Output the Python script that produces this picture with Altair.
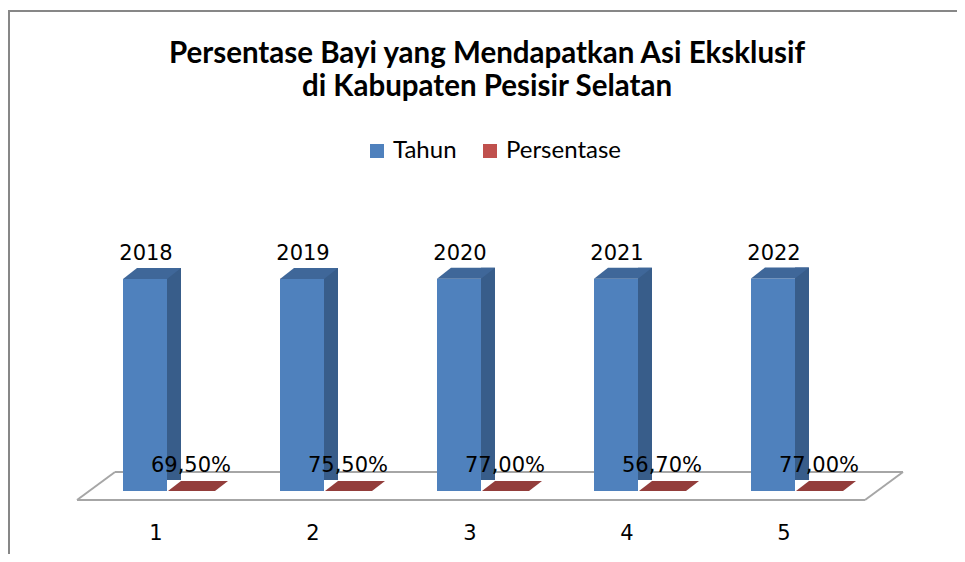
import altair as alt
import pandas as pd

categories = [1, 2, 3, 4, 5]
tahun = [2018, 2019, 2020, 2021, 2022]
persentase = [0.695, 0.755, 0.770, 0.567, 0.770]
series_names = ["Tahun", "Persentase"]
series_colors = ["#4F81BD", "#C0504D"]

rows = []
for c, t, p in zip(categories, tahun, persentase):
    rows.append({"kategori": c, "seri": "Tahun", "nilai": t, "label": str(t)})
    rows.append({"kategori": c, "seri": "Persentase", "nilai": p,
                 "label": f"{p*100:.2f}".replace(".", ",") + "%"})
df = pd.DataFrame(rows)
one = pd.DataFrame({"a": [0]})

W, H = 785, 291
x_enc = alt.X("kategori:O", scale=alt.Scale(paddingInner=0, paddingOuter=0),
              axis=alt.Axis(title=None, labelAngle=0, domain=False, ticks=False,
                            labelFont="DejaVu Sans", labelFontSize=21,
                            labelColor="#000000", labelPadding=31))
y_scale = alt.Scale(domain=[0, 2770], nice=False, zero=True)
y_enc = alt.Y("nilai:Q", scale=y_scale, axis=None)

base = alt.Chart(df)
tahun_only = base.transform_filter(alt.datum.seri == "Tahun")
pers_only = base.transform_filter(alt.datum.seri == "Persentase")

grey = "#A6A6A6"
def rule(x1, x2, y1, y2, color=grey, w=2):
    return alt.Chart(one).mark_rule(color=color, strokeWidth=w).encode(
        x=alt.value(x1), x2=alt.value(x2), y=alt.value(y1), y2=alt.value(y2))

floor = [
    rule(37.5, 825.5, 272, 272),
    rule(-0.5, 787.5, 300, 300),
    rule(-0.5, 37.5, 300, 272),
    rule(787.5, 825.5, 300, 272),
]
border = [
    rule(-69.5, 880, -189, -189, "#878787", 2),
    rule(-68.5, -68.5, -190, 360, "#878787", 2),
]

front = base.mark_bar(width=44, xOffset=-11).encode(
    x=x_enc, y=y_enc,
    color=alt.Color("seri:N", scale=alt.Scale(domain=series_names, range=series_colors),
                    legend=alt.Legend(title=None, orient="none", direction="horizontal",
                                      legendX=287.5, legendY=-61, symbolType="square",
                                      symbolSize=196, symbolStrokeWidth=0,
                                      labelFont="Lato", labelFontSize=24,
                                      labelColor="#000000", labelOffset=4,
                                      columnPadding=21, padding=0)),
)
side = tahun_only.mark_bar(width=14, xOffset=18, yOffset=-11, color="#385D8A").encode(
    x=x_enc, y=y_enc)
cap = tahun_only.mark_point(
    shape="M -1 0.19 L 0.517 0.19 L 1 -0.19 L -0.517 -0.19 Z", size=3364,
    filled=True, opacity=1, color="#3F6799", strokeWidth=0, xOffset=-4, yOffset=-5.5
).encode(x=x_enc, y=y_enc)
red_top = pers_only.mark_point(
    shape="M -1 0.1667 L 0.567 0.1667 L 1 -0.1667 L -0.567 -0.1667 Z", size=3600,
    filled=True, opacity=1, color="#933D3B", strokeWidth=0, xOffset=42, yOffset=-5
).encode(x=x_enc, y=y_enc)

lbl_t = tahun_only.mark_text(font="DejaVu Sans", fontSize=21, color="#000000",
                             dx=-10, dy=-19, baseline="alphabetic").encode(
    x=x_enc, y=y_enc, text="label:N")
lbl_p = pers_only.mark_text(font="DejaVu Sans", fontSize=21, color="#000000",
                            dx=35, dy=-19, baseline="alphabetic").encode(
    x=x_enc, y=y_enc, text="label:N")

chart = alt.layer(*border, *floor, front, side, cap, red_top, lbl_t, lbl_p).properties(
    width=W, height=H,
    autosize="none",
    background="#FFFFFF",
    padding={"left": 69.5, "top": 192, "right": 94.5, "bottom": 63},
    title=alt.TitleParams(["Persentase Bayi yang Mendapatkan Asi Eksklusif",
                           "di Kabupaten Pesisir Selatan"],
                          anchor="middle", font="Lato", fontSize=29.5,
                          fontWeight="bold", color="#000000", lineHeight=33,
                          offset=-93, dx=17),
).configure_view(strokeWidth=0, stroke="transparent")

chart.save("out.html", embed_options={"renderer": "svg", "actions": False})
